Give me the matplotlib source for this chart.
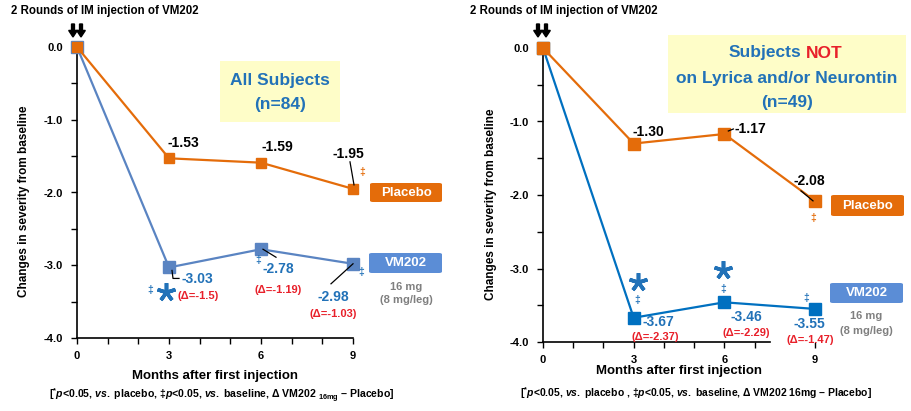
import matplotlib
matplotlib.use("Agg")
import matplotlib.pyplot as plt
import matplotlib.transforms as mt
from matplotlib import font_manager
from matplotlib.patches import FancyBboxPatch, FancyArrow
from matplotlib.lines import Line2D

# ---------------- data ----------------
months = [0, 3, 6, 9]
placebo_all = [0.0, -1.53, -1.59, -1.95]
vm202_all = [0.0, -3.03, -2.78, -2.98]
delta_all = ["(Δ=-1.5)", "(Δ=-1.19)", "(Δ=-1.03)"]
placebo_not = [0.0, -1.30, -1.17, -2.08]
vm202_not = [0.0, -3.67, -3.46, -3.55]
delta_not = ["(Δ=-2.37)", "(Δ=-2.29)", "(Δ=-1.47)"]
y_ticks = [0.0, -1.0, -2.0, -3.0, -4.0]
y_ticklabels = ["0.0", "-1.0", "-2.0", "-3.0", "-4.0"]
x_ticklabels = ["0", "3", "6", "9"]

# ---------------- fonts ----------------
names = {f.name for f in font_manager.fontManager.ttflist}
main = "Liberation Sans Narrow" if "Liberation Sans Narrow" in names else "Liberation Sans"
FAM = [main, "DejaVu Sans"]
plt.rcParams["font.family"] = FAM
plt.rcParams["mathtext.fontset"] = "custom"
plt.rcParams["mathtext.rm"] = main + ":bold"
plt.rcParams["mathtext.it"] = main + ":italic:bold"
plt.rcParams["mathtext.bf"] = main + ":bold"

ORANGE = "#E46C0A"
BLUE_L = "#5A84C2"
BLUE_R = "#0070C0"
TXT_BLUE = "#2272B8"
RED = "#E8202A"
GREY = "#7F7F7F"
YELLOW = "#FEFDC8"
BOX_BLUE = "#5B8DD6"

W, H = 911, 411
fig = plt.figure(figsize=(W / 100, H / 100), dpi=100)


def fx(px):
    return px / W


def fy(py):
    return 1 - py / H


def fig_box(x0, y0, x1, y1, color, rounding=3):
    p = FancyBboxPatch((fx(x0), fy(y1)), fx(x1) - fx(x0), fy(y0) - fy(y1),
                       boxstyle=f"round,pad=0,rounding_size={rounding / W}",
                       transform=fig.transFigure, facecolor=color,
                       edgecolor="none", zorder=0)
    fig.patches.append(p)


def setup_axes(rect, spine_end):
    ax = fig.add_axes(rect)
    ax.set_xlim(0, 9)
    ax.set_ylim(-4, 0)
    for s in ["top", "right"]:
        ax.spines[s].set_visible(False)
    ax.spines["bottom"].set_bounds(0, spine_end)
    ax.spines["left"].set_linewidth(1.2)
    ax.spines["bottom"].set_linewidth(1.2)
    ax.set_yticks(y_ticks)
    ax.set_yticklabels(y_ticklabels, fontsize=8, fontweight="bold")
    ax.set_yticks([-0.5, -1.5, -2.5, -3.5], minor=True)
    ax.set_xticks(months)
    ax.set_xticklabels(x_ticklabels, fontsize=8, fontweight="bold")
    ax.set_xticks([m for m in range(0, int(spine_end) + 1) if m % 3], minor=True)
    ax.tick_params(axis="both", which="both", direction="out", length=4, width=1)
    ax.tick_params(axis="x", which="major", pad=5)
    ax.tick_params(axis="y", which="major", pad=6)
    ax.patch.set_alpha(0)
    return ax


def lab(ax, x, y, dx, dy, s, color, size=10, **kw):
    ax.annotate(s, xy=(x, y), xytext=(dx * 0.72, -dy * 0.72), textcoords="offset points",
                ha="center", va="center", color=color, fontsize=size,
                fontweight="bold", annotation_clip=False, **kw)


def star(ax, x, y, dx, dy, color):
    tr = ax.transData + mt.ScaledTranslation(dx / 100, -dy / 100, fig.dpi_scale_trans)
    ax.plot([x], [y], marker=(5, 2, 0), ms=13.5, mew=2.6, color=color,
            transform=tr, clip_on=False, zorder=5, solid_capstyle="butt")


def leader(ax, x, y, pts, color="black"):
    base = ax.transData.transform((x, y))
    disp = [(base[0] + a, base[1] - b) for a, b in pts]
    inv = ax.transData.inverted()
    dat = [inv.transform(d) for d in disp]
    ax.add_line(Line2D([d[0] for d in dat], [d[1] for d in dat], color=color,
                       lw=0.9, clip_on=False, zorder=4))


# ================= LEFT PANEL =================
axL = setup_axes([fx(77), fy(338), fx(353) - fx(77), fy(47) - fy(338)], 9)
axL.plot(months, vm202_all, color=BLUE_L, lw=1.6, marker="s", ms=9,
         mfc=BLUE_L, mec=BLUE_L, clip_on=False, zorder=3)
axL.plot(months, placebo_all, color=ORANGE, lw=1.6, marker="s", ms=7.5,
         mfc=ORANGE, mec=ORANGE, clip_on=False, zorder=4)
fig.canvas.draw()

lab(axL, 3, placebo_all[1], 14, -15, "-1.53", "black")
lab(axL, 6, placebo_all[2], 16, -16, "-1.59", "black")
lab(axL, 9, placebo_all[3], -5, -35, "-1.95", "black")
leader(axL, 9, placebo_all[3], [(-3, -27), (1, -4)])
lab(axL, 9, placebo_all[3], 9, -17, "‡", ORANGE, size=7.5)

lab(axL, 3, vm202_all[1], 28, 12, "-3.03", TXT_BLUE)
leader(axL, 3, vm202_all[1], [(3, 3), (4, 11), (10, 11)])
lab(axL, 3, vm202_all[1], 29, 29, delta_all[0], RED, size=8)
lab(axL, 3, vm202_all[1], -19, 23, "‡", TXT_BLUE, size=7.5)
star(axL, 3, vm202_all[1], -3, 25, TXT_BLUE)

lab(axL, 6, vm202_all[2], 17, 20, "-2.78", TXT_BLUE)
leader(axL, 6, vm202_all[2], [(2, 0), (15, 8)])
lab(axL, 6, vm202_all[2], -3, 11, "‡", TXT_BLUE, size=7.5)
lab(axL, 6, vm202_all[2], 17, 41, delta_all[1], RED, size=8)

lab(axL, 9, vm202_all[3], -20, 33, "-2.98", TXT_BLUE)
leader(axL, 9, vm202_all[3], [(-22, 20), (0, 0)])
lab(axL, 9, vm202_all[3], -20, 50, delta_all[2], RED, size=8)
lab(axL, 9, vm202_all[3], 8, 8, "‡", TXT_BLUE, size=7.5)

axL.set_xlabel("Months after first injection", fontsize=9.5, fontweight="bold", labelpad=7)
axL.set_ylabel("Changes in severity from baseline", fontsize=8.5, fontweight="bold")
axL.yaxis.set_label_coords(-0.17, 0.47)

# ================= RIGHT PANEL =================
axR = setup_axes([fx(543), fy(342), fx(815) - fx(543), fy(48) - fy(342)], 7.5)
axR.plot(months, vm202_not, color=BLUE_R, lw=1.6, marker="s", ms=9,
         mfc=BLUE_R, mec=BLUE_R, clip_on=False, zorder=3)
axR.plot(months, placebo_not, color=ORANGE, lw=1.6, marker="s", ms=9,
         mfc=ORANGE, mec=ORANGE, clip_on=False, zorder=4)
fig.canvas.draw()

lab(axR, 3, placebo_not[1], 15, -12, "-1.30", "black")
lab(axR, 6, placebo_not[2], 26, -5, "-1.17", "black")
leader(axR, 6, placebo_not[2], [(4, -3), (9, -5)])
lab(axR, 9, placebo_not[3], -6, -20, "-2.08", "black")
leader(axR, 9, placebo_not[3], [(-14, -10), (-2, 0)])
lab(axR, 9, placebo_not[3], -2, 17, "‡", ORANGE, size=7.5)

star(axR, 3, vm202_not[1], 4, -36, TXT_BLUE)
lab(axR, 3, vm202_not[1], 4, -18, "‡", TXT_BLUE, size=7.5)
lab(axR, 3, vm202_not[1], 25, 4, "-3.67", TXT_BLUE)
lab(axR, 3, vm202_not[1], 22, 19, delta_not[0], RED, size=8)

star(axR, 6, vm202_not[2], -1, -32, TXT_BLUE)
lab(axR, 6, vm202_not[2], -1, -13, "‡", TXT_BLUE, size=7.5)
lab(axR, 6, vm202_not[2], 22, 15, "-3.46", TXT_BLUE)
lab(axR, 6, vm202_not[2], 22, 31, delta_not[1], RED, size=8)

lab(axR, 9, vm202_not[3], -9, -11, "‡", TXT_BLUE, size=7.5)
lab(axR, 9, vm202_not[3], -6, 15, "-3.55", TXT_BLUE)
lab(axR, 9, vm202_not[3], -5, 31, delta_not[2], RED, size=8)

axR.set_xlabel("Months after first injection", fontsize=9.5, fontweight="bold", labelpad=0)
axR.set_ylabel("Changes in severity from baseline", fontsize=8.5, fontweight="bold")
axR.yaxis.set_label_coords(-0.17, 0.47)

# ================= figure-level decorations =================
fig.text(fx(11), fy(11), "2 Rounds of IM injection of VM202", fontsize=8.3,
         fontweight="bold", va="center", ha="left")
fig.text(fx(470), fy(11), "2 Rounds of IM injection of VM202", fontsize=8.3,
         fontweight="bold", va="center", ha="left")
for xa in (73, 81, 538, 546):
    fig.patches.append(FancyArrow(
        fx(xa), fy(24), 0, fy(37) - fy(24), width=0.0032,
        head_width=0.0095, head_length=0.016, length_includes_head=True,
        transform=fig.transFigure, color="black"))

# yellow boxes
fig_box(220, 61, 340, 122, YELLOW, rounding=0)
fig.text(fx(280), fy(80), "All Subjects", fontsize=12.5, fontweight="bold",
         color=TXT_BLUE, ha="center", va="center")
fig.text(fx(280), fy(105), "(n=84)", fontsize=12.5, fontweight="bold",
         color=TXT_BLUE, ha="center", va="center")

fig_box(668, 35, 906, 113, YELLOW, rounding=0)
fig.text(fx(801), fy(53), "Subjects", fontsize=12.5, fontweight="bold",
         color=TXT_BLUE, ha="right", va="center")
fig.text(fx(806), fy(53), "NOT", fontsize=12.5, fontweight="bold",
         color=RED, ha="left", va="center")
fig.text(fx(787), fy(78), "on Lyrica and/or Neurontin", fontsize=12.5, fontweight="bold",
         color=TXT_BLUE, ha="center", va="center")
fig.text(fx(787), fy(103), "(n=49)", fontsize=12.5, fontweight="bold",
         color=TXT_BLUE, ha="center", va="center")

# legend-like boxes
for (x0, y0, x1, y1), col, s in [((370, 183, 442, 202), ORANGE, "Placebo"),
                                 ((369, 253, 442, 273), BOX_BLUE, "VM202"),
                                 ((831, 195, 904, 216), ORANGE, "Placebo"),
                                 ((830, 283, 903, 303), BOX_BLUE, "VM202")]:
    fig_box(x0, y0, x1, y1, col, rounding=3)
    fig.text(fx((x0 + x1) / 2), fy((y0 + y1) / 2), s, fontsize=9.5, fontweight="bold",
             color="white", ha="center", va="center")
for xc, y1, y2 in [(406, 287, 300), (866, 316, 331)]:
    fig.text(fx(xc), fy(y1), "16 mg", fontsize=8, fontweight="bold", color=GREY,
             ha="center", va="center")
    fig.text(fx(xc), fy(y2), "(8 mg/leg)", fontsize=8, fontweight="bold", color=GREY,
             ha="center", va="center")

# footnotes
fig.text(fx(222), fy(396),
         r"[$^{*}$$\mathit{p}$<0.05, $\mathit{vs.}$ placebo, ‡$\mathit{p}$<0.05, $\mathit{vs.}$ baseline, Δ VM202 $\mathregular{_{16mg}}$ – Placebo]",
         fontsize=7.6, fontweight="bold", ha="center", va="center")
fig.text(fx(696), fy(393),
         r"[$^{*}$$\mathit{p}$<0.05, $\mathit{vs.}$ placebo , ‡$\mathit{p}$<0.05, $\mathit{vs.}$ baseline, Δ VM202 16mg – Placebo]",
         fontsize=7.5, fontweight="bold", ha="center", va="center")

fig.savefig("out.png", dpi=100)
